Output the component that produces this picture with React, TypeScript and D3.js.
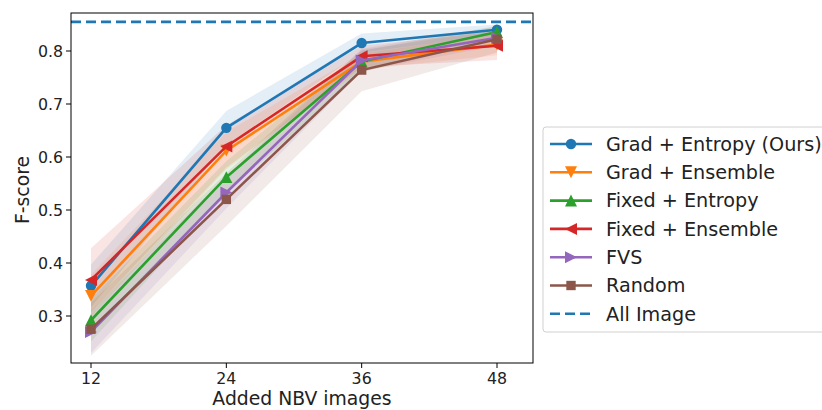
import * as d3 from "d3";

const steps = [12, 24, 36, 48];
const allImage = 0.855;

const names = [
  "Grad + Entropy (Ours)",
  "Grad + Ensemble",
  "Fixed + Entropy",
  "Fixed + Ensemble",
  "FVS",
  "Random",
];
const colors = ["#1f77b4", "#ff7f0e", "#2ca02c", "#d62728", "#9467bd", "#8c564b"];
const markers = ["circle", "down", "up", "left", "right", "square"];

const means = [
  [0.357, 0.655, 0.815, 0.84],
  [0.338, 0.612, 0.78, 0.812],
  [0.292, 0.562, 0.78, 0.836],
  [0.368, 0.62, 0.79, 0.81],
  [0.27, 0.533, 0.782, 0.825],
  [0.275, 0.52, 0.764, 0.822],
];
const stds = [
  [0.04, 0.032, 0.018, 0.01],
  [0.04, 0.035, 0.015, 0.02],
  [0.04, 0.03, 0.02, 0.01],
  [0.06, 0.04, 0.02, 0.027],
  [0.04, 0.03, 0.02, 0.015],
  [0.05, 0.05, 0.04, 0.025],
];

const yTicks = [0.3, 0.4, 0.5, 0.6, 0.7, 0.8];

const W = 822;
const H = 410;
const left = 71;
const right = 533;
const top = 13;
const bottom = 363;

const x = d3.scaleLinear().domain([12, 48]).range([91, 497]);
const y = d3.scaleLinear().domain([0.3, 0.8]).range([316, 51]);

const marker = (kind: string, cx: number, cy: number, color: string) => {
  const r = 5.2;
  if (kind === "circle") return <circle cx={cx} cy={cy} r={r} fill={color} />;
  if (kind === "square")
    return <rect x={cx - r * 0.9} y={cy - r * 0.9} width={r * 1.8} height={r * 1.8} fill={color} />;
  const pts: Record<string, number[][]> = {
    up: [[0, -1], [-1, 1], [1, 1]],
    down: [[0, 1], [-1, -1], [1, -1]],
    left: [[-1, 0], [1, -1], [1, 1]],
    right: [[1, 0], [-1, -1], [-1, 1]],
  };
  const p = pts[kind].map(([a, b]) => `${cx + a * r * 1.15},${cy + b * r * 1.15}`).join(" ");
  return <polygon points={p} fill={color} />;
};

export default function App() {
  const line = d3
    .line<number>()
    .x((_, i) => x(steps[i]))
    .y((d) => y(d));
  const area = (m: number[], s: number[]) =>
    d3
      .area<number>()
      .x((_, i) => x(steps[i]))
      .y0((d, i) => y(d - s[i]))
      .y1((d, i) => y(d + s[i]))(m) as string;

  const legendX = 543;
  const legendY = 127;
  const rowH = 28.3;
  const font = "DejaVu Sans, sans-serif";

  return (
    <svg width={W} height={H} style={{ position: "absolute", left: 0, top: 0 }} fontFamily={font}>
      <defs>
        <clipPath id="plot">
          <rect x={left} y={top} width={right - left} height={bottom - top} />
        </clipPath>
      </defs>
      <rect width={W} height={H} fill="white" />
      <g clipPath="url(#plot)">
        {means.map((m, i) => (
          <path key={"a" + i} d={area(m, stds[i])} fill={colors[i]} fillOpacity={0.12} />
        ))}
        <line
          x1={left}
          x2={right}
          y1={y(allImage)}
          y2={y(allImage)}
          stroke={colors[0]}
          strokeWidth={2.6}
          strokeDasharray="10,5"
        />
        {means.map((m, i) => (
          <g key={"l" + i}>
            <path d={line(m) as string} fill="none" stroke={colors[i]} strokeWidth={2.6} />
            {m.map((v, j) => (
              <g key={j}>{marker(markers[i], x(steps[j]), y(v), colors[i])}</g>
            ))}
          </g>
        ))}
      </g>
      <rect x={left} y={top} width={right - left} height={bottom - top} fill="none" stroke="black" strokeWidth={1} />
      {steps.map((s) => (
        <g key={s}>
          <line x1={x(s)} x2={x(s)} y1={bottom} y2={bottom + 5} stroke="black" />
          <text x={x(s)} y={bottom + 21} textAnchor="middle" fontSize={15.8} fill="#222">
            {s}
          </text>
        </g>
      ))}
      {yTicks.map((t) => (
        <g key={t}>
          <line x1={left - 5} x2={left} y1={y(t)} y2={y(t)} stroke="black" />
          <text x={left - 8} y={y(t)} dy="0.35em" textAnchor="end" fontSize={15.8} fill="#222">
            {t.toFixed(1)}
          </text>
        </g>
      ))}
      <text x={(left + right) / 2} y={405} textAnchor="middle" fontSize={18.8} fill="#222">
        Added NBV images
      </text>
      <text
        transform={`translate(29, 190) rotate(-90)`}
        textAnchor="middle"
        fontSize={18.8}
        fill="#222"
      >
        F-score
      </text>
      <rect
        x={legendX}
        y={legendY}
        width={300}
        height={205}
        rx={3}
        fill="white"
        fillOpacity={0.8}
        stroke="#d0d0d0"
      />
      {names.concat(["All Image"]).map((n, i) => {
        const cy = legendY + 17 + i * rowH;
        const c = i < 6 ? colors[i] : colors[0];
        return (
          <g key={n}>
            {i < 6 ? (
              <>
                <line x1={550} x2={592} y1={cy} y2={cy} stroke={c} strokeWidth={2.6} />
                {marker(markers[i], 571, cy, c)}
              </>
            ) : (
              <line x1={550} x2={592} y1={cy} y2={cy} stroke={c} strokeWidth={2.6} strokeDasharray="10,5" />
            )}
            <text x={606} y={cy} dy="0.35em" fontSize={19.2} fill="#222">
              {n}
            </text>
          </g>
        );
      })}
    </svg>
  );
}
